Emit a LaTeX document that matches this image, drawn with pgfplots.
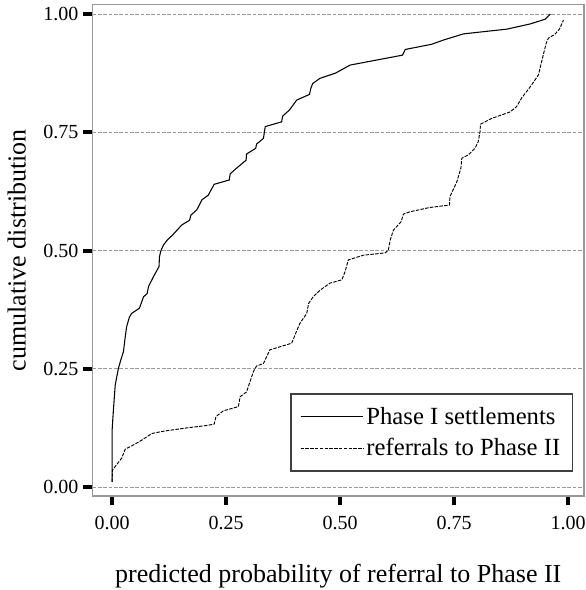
\documentclass[border=0pt]{standalone}
\usepackage{pgfplots}
\pgfplotsset{compat=1.18}
\usepackage{fontspec}
\setmainfont{Liberation Serif}
\begin{document}
\begin{tikzpicture}
\begin{axis}[
  name=ax,
  scale only axis,
  width=368.6pt, height=368.6pt,
  xmin=-0.0428, xmax=1.035,
  ymin=-0.019, ymax=1.020,
  xtick={0,0.25,0.5,0.75,1},
  ytick={0,0.25,0.5,0.75,1},
  xtick pos=left, ytick pos=left,
  tick align=outside,
  major tick length=7pt,
  tick style={black, line width=3pt},
  axis line style={draw=black!40, line width=1.1pt},
  ymajorgrids,
  major grid style={black!40, line width=0.6pt, dash pattern=on 2.8pt off 1.2pt},
  /pgf/number format/assume math mode=true,
  xticklabel={\pgfmathprintnumber[fixed,fixed zerofill,precision=2]{\tick}},
  yticklabel={\pgfmathprintnumber[fixed,fixed zerofill,precision=2]{\tick}},
  tick label style={font=\fontsize{15}{18}\selectfont},
  xticklabel style={yshift=-4.5pt},
  xlabel={predicted probability of referral to Phase II},
  ylabel={cumulative distribution},
  label style={font=\fontsize{19.5}{23}\selectfont},
  xlabel style={at={(axis description cs:0.5,-0.163)}, anchor=center},
  ylabel style={at={(axis description cs:-0.154,0.5)}, anchor=center},
  legend style={at={(rel axis cs:0.402,0.049)}, anchor=south west,
    draw=black!75, line width=1.1pt, font=\fontsize{18.5}{22}\selectfont,
    inner xsep=7pt, inner ysep=8pt, row sep=5pt},
  legend cell align=left,
  legend image code/.code={\draw[#1, line width=0.7pt] (0pt,0pt) -- (47pt,0pt);},
]
\addplot[black, line width=0.8pt] coordinates {
(0.0,0.011) (0.0,0.118) (0.003,0.163) (0.007,0.216) (0.014,0.251) (0.019,0.268)
(0.025,0.286) (0.029,0.318) (0.032,0.339) (0.038,0.359) (0.043,0.367) (0.060,0.378)
(0.069,0.402) (0.077,0.409) (0.080,0.424) (0.091,0.445) (0.103,0.466) (0.104,0.487)
(0.107,0.499) (0.113,0.512) (0.121,0.522) (0.133,0.533) (0.153,0.554) (0.170,0.564)
(0.173,0.575) (0.186,0.586) (0.197,0.607) (0.211,0.617) (0.224,0.640) (0.257,0.649)
(0.259,0.662) (0.273,0.674) (0.294,0.691) (0.295,0.704) (0.315,0.716) (0.317,0.725)
(0.332,0.737) (0.336,0.762) (0.372,0.772) (0.374,0.784) (0.389,0.797) (0.405,0.818)
(0.433,0.830) (0.436,0.843) (0.440,0.853) (0.456,0.864) (0.490,0.875) (0.522,0.892)
(0.637,0.913) (0.643,0.925) (0.701,0.936) (0.727,0.945) (0.771,0.958) (0.866,0.968)
(0.917,0.979) (0.950,0.989) (0.961,1.0)
};
\addlegendentry{Phase I settlements}
\addplot[black, line width=0.7pt, dash pattern=on 2.6pt off 1pt] coordinates {
(0.0,0.011) (0.001,0.036) (0.010,0.047) (0.021,0.061) (0.029,0.080) (0.047,0.089)
(0.065,0.099) (0.087,0.113) (0.113,0.118) (0.164,0.125) (0.207,0.130) (0.224,0.133)
(0.228,0.149) (0.244,0.161) (0.277,0.170) (0.281,0.191) (0.295,0.201) (0.310,0.244)
(0.317,0.256) (0.332,0.261) (0.346,0.290) (0.394,0.304) (0.404,0.328) (0.412,0.346)
(0.427,0.367) (0.431,0.388) (0.441,0.402) (0.456,0.416) (0.478,0.431) (0.504,0.438)
(0.511,0.455) (0.518,0.480) (0.551,0.490) (0.599,0.495) (0.606,0.501) (0.610,0.522)
(0.617,0.543) (0.634,0.561) (0.639,0.577) (0.654,0.582) (0.697,0.591) (0.740,0.596)
(0.741,0.614) (0.756,0.645) (0.765,0.674) (0.767,0.695) (0.781,0.702) (0.796,0.716)
(0.803,0.730) (0.807,0.751) (0.808,0.767) (0.832,0.779) (0.873,0.793) (0.887,0.804)
(0.898,0.822) (0.917,0.846) (0.935,0.871) (0.942,0.899) (0.952,0.938) (0.957,0.949)
(0.971,0.957) (0.981,0.968) (0.990,0.987)
};
\addlegendentry{referrals to Phase II}
\end{axis}
\pgfresetboundingbox
\path[use as bounding box] ([shift={(-69.4pt,-70.5pt)}]ax.south west) rectangle ([shift={(1.5pt,3.4pt)}]ax.north east);
\end{tikzpicture}
\end{document}
